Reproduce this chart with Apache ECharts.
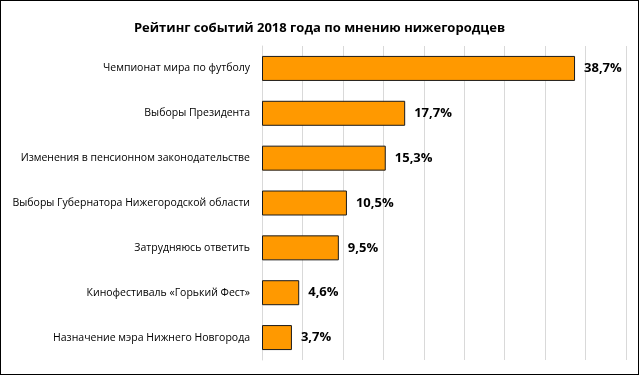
<!DOCTYPE html>
<html><head><meta charset="utf-8">
<script src="https://cdn.jsdelivr.net/npm/echarts@6/dist/echarts.min.js"></script>
<style>
html,body{margin:0;padding:0;background:#fff;}
#c{position:absolute;left:0;top:0;width:637px;height:373px;border:1px solid #000;}
</style></head>
<body><div id="c"></div>
<script>
var categories = [
  "Чемпионат мира по футболу",
  "Выборы Президента",
  "Изменения в пенсионном законодательстве",
  "Выборы Губернатора Нижегородской области",
  "Затрудняюсь ответить",
  "Кинофестиваль «Горький Фест»",
  "Назначение мэра Нижнего Новгорода"
];
var values = [38.7, 17.7, 15.3, 10.5, 9.5, 4.6, 3.7];
var titleText = "Рейтинг событий 2018 года по мнению нижегородцев";

var chart = echarts.init(document.getElementById('c'));
chart.setOption({
  animation: false,
  title: {
    text: titleText, left: 'center', top: 16,
    textStyle: {fontFamily: 'Open Sans', fontWeight: 'bold', fontSize: 13, color: '#000'}
  },
  grid: {left: 261, right: 12, top: 45, bottom: 14, containLabel: false},
  xAxis: {
    type: 'value', min: 0, max: 45, interval: 5,
    axisLabel: {show: false}, axisTick: {show: false}, axisLine: {show: false},
    splitLine: {show: true, lineStyle: {color: '#d9d9d9', width: 1}}
  },
  yAxis: {
    type: 'category', data: categories, inverse: true,
    axisTick: {show: false},
    axisLine: {show: true, lineStyle: {color: '#d9d9d9'}},
    axisLabel: {margin: 12, fontFamily: 'Open Sans', fontSize: 10.5, color: '#000'}
  },
  series: [{
    type: 'bar', data: values, barWidth: 25,
    itemStyle: {color: '#FF9900', borderColor: '#1a1a1a', borderWidth: 1},
    label: {
      show: true, position: 'right', distance: 9,
      fontFamily: 'Open Sans', fontWeight: 'bold', fontSize: 13, color: '#000',
      formatter: function(p){ return p.value.toFixed(1).replace('.', ',') + '%'; }
    }
  }]
});
</script></body></html>
